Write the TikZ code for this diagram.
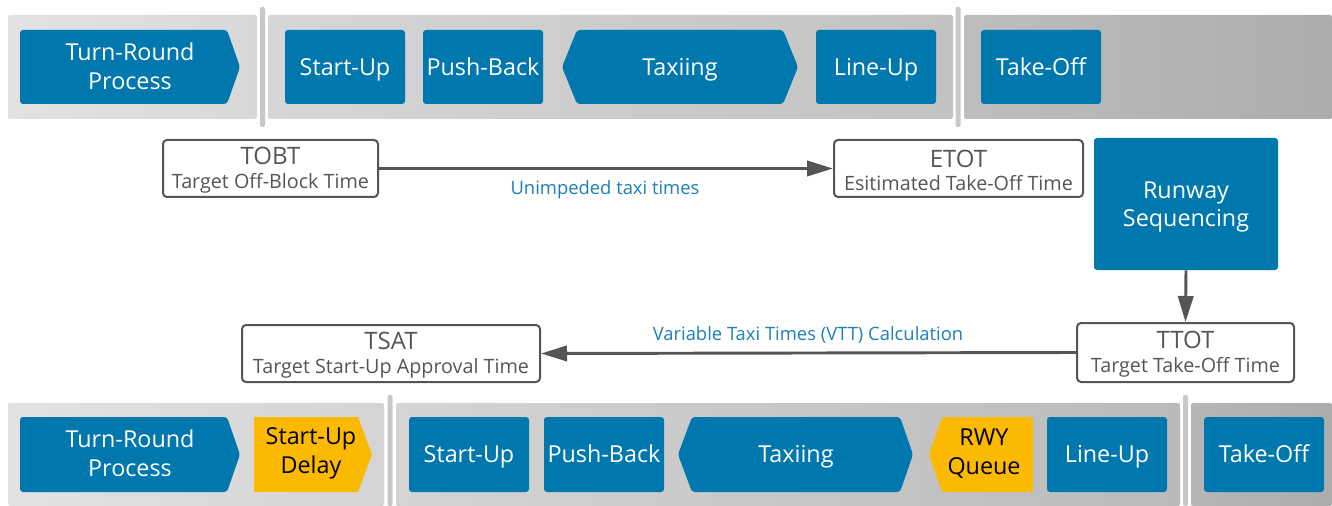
\documentclass[tikz,border=0pt]{standalone}
\usepackage{fontspec}
\setmainfont{Open Sans}
\usetikzlibrary{arrows.meta}
\definecolor{fblue}{HTML}{0077AD}
\definecolor{fyel}{HTML}{FBBA00}
\definecolor{dgray}{HTML}{555555}
\definecolor{lblue}{HTML}{1A80B6}
\definecolor{divc}{RGB}{200,200,200}
\begin{document}
\begin{tikzpicture}[x=0.75pt,y=-0.75pt,
  bigtxt/.style={font=\fontsize{17.5}{21.5}\selectfont, align=center},
  btxt/.style={bigtxt, text=white},
  ytxt/.style={bigtxt, text=black},
  onel/.style={text height=12.5pt, text depth=0pt, inner sep=0pt},
  bbox/.style={btxt, onel, fill=fblue, rounded corners=2.25pt},
  tbox/.style={draw=dgray, line width=1.5pt, rounded corners=3pt, fill=white,
    align=center, text=dgray, inner sep=0pt, font=\fontsize{14.8}{17.5}\selectfont},
  conn/.style={draw=dgray, line width=2.2pt, -{Triangle[length=19.5pt,width=11.5pt]}},
  clabel/.style={text=lblue, font=\fontsize{13.8}{16}\selectfont},
  divbar/.style={fill=divc, rounded corners=1.5pt}
]
\useasboundingbox (0,0) rectangle (1332,506);

% ---------- top band ----------
\shade[left color={rgb,255:red,226;green,226;blue,226}, right color={rgb,255:red,216;green,216;blue,216}, rounded corners=1.5pt] (8,15) rectangle (257,119);
\shade[left color={rgb,255:red,214;green,214;blue,214}, right color={rgb,255:red,194;green,194;blue,194}, rounded corners=1.5pt] (268,15) rectangle (953,119);
\shade[left color={rgb,255:red,190;green,190;blue,190}, right color={rgb,255:red,172;green,172;blue,172}, rounded corners=1.5pt] (964,15) rectangle (1332,119);
\fill[divbar] (260,7) rectangle (265,127);
\fill[divbar] (955.5,7) rectangle (960.5,127);

\fill[fblue, rounded corners=2.25pt] (100,30) -- (227,30) -- (240,67) -- (227,104) -- (20,104) -- (20,30) -- cycle;
\node[btxt] (tr1) at (130,66) {Turn-Round\\Process};
\node[bbox, minimum width=90pt, minimum height=55.5pt] (su1) at (345,67) {Start-Up};
\node[bbox, minimum width=90pt, minimum height=55.5pt] (pb1) at (483,67) {Push-Back};
\fill[fblue, rounded corners=2.25pt] (680,30) -- (783,30) -- (798,67) -- (783,104) -- (577,104) -- (562,67) -- (577,30) -- cycle;
\node[btxt, onel] (tx1) at (680,67) {Taxiing};
\node[bbox, minimum width=90pt, minimum height=55.5pt] (lu1) at (876,67) {Line-Up};
\node[bbox, minimum width=90pt, minimum height=55.5pt] (to1) at (1041,67) {Take-Off};

% ---------- middle ----------
\node[tbox, minimum width=161.25pt, minimum height=42.75pt] (tobt) at (270.5,168.5)
  {\rule{0pt}{15.5pt}{\fontsize{18}{17.5}\selectfont TOBT}\\Target Off-Block Time};
\node[tbox, minimum width=186.75pt, minimum height=42.75pt] (etot) at (958.5,168.5)
  {\rule{0pt}{15.5pt}{\fontsize{18}{17.5}\selectfont ETOT}\\Esitimated Take-Off Time};
\node[btxt, fill=fblue, rounded corners=2.25pt, inner sep=0pt, minimum width=138pt, minimum height=99pt] (rs) at (1186,204)
  {\rule{0pt}{17pt}Runway\\Sequencing};
\node[tbox, minimum width=162.75pt, minimum height=44.25pt] (ttot) at (1185.5,352.5)
  {\rule{0pt}{15.5pt}{\fontsize{18}{17.5}\selectfont TTOT}\\Target Take-Off Time};
\node[tbox, minimum width=223.5pt, minimum height=42.75pt] (tsat) at (391,353.5)
  {\rule{0pt}{15.5pt}{\fontsize{18}{17.5}\selectfont TSAT}\\Target Start-Up Approval Time};

\draw[conn] (tobt.east) -- (etot.west);
\draw[conn] (rs.south) -- (ttot.north);
\draw[conn] (ttot.west) -- (tsat.east);
\node[clabel] (l1) at (605,190) {Unimpeded taxi times};
\node[clabel] (l2) at (808,335) {Variable Taxi Times (VTT) Calculation};

% ---------- bottom band ----------
\shade[left color={rgb,255:red,226;green,226;blue,226}, right color={rgb,255:red,212;green,212;blue,212}, rounded corners=1.5pt] (8,403) rectangle (384,506);
\shade[left color={rgb,255:red,212;green,212;blue,212}, right color={rgb,255:red,186;green,186;blue,186}, rounded corners=1.5pt] (396,403) rectangle (1180,506);
\shade[left color={rgb,255:red,182;green,182;blue,182}, right color={rgb,255:red,172;green,172;blue,172}, rounded corners=1.5pt] (1191,403) rectangle (1332,506);
\fill[divbar] (387.5,395) rectangle (392.5,506);
\fill[divbar] (1183,395) rectangle (1188,506);

\fill[fblue, rounded corners=2.25pt] (100,417) -- (227,417) -- (240,454.5) -- (227,492) -- (20,492) -- (20,417) -- cycle;
\node[btxt] (tr2) at (130,453.5) {Turn-Round\\Process};
\fill[fyel] (254,417) -- (358,417) -- (372,454.5) -- (358,492) -- (254,492) -- cycle;
\node[ytxt] (sd) at (311,453.5) {Start-Up\\Delay};
\node[bbox, minimum width=90pt, minimum height=56.25pt] (su2) at (469,454.5) {Start-Up};
\node[bbox, minimum width=90pt, minimum height=56.25pt] (pb2) at (604,454.5) {Push-Back};
\fill[fblue, rounded corners=2.25pt] (796,417) -- (900,417) -- (913,454.5) -- (900,492) -- (692,492) -- (678,454.5) -- (692,417) -- cycle;
\node[btxt, onel] (tx2) at (796,454.5) {Taxiing};
\fill[fyel, rounded corners=2.25pt] (990,417) -- (1033,417) -- (1033,492) -- (942,492) -- (929,454.5) -- (942,417) -- cycle;
\node[ytxt] (rq) at (984,453.5) {RWY\\Queue};
\node[bbox, minimum width=90pt, minimum height=56.25pt] (lu2) at (1107,454.5) {Line-Up};
\node[bbox, minimum width=90pt, minimum height=56.25pt] (to2) at (1264,454.5) {Take-Off};
\end{tikzpicture}
\end{document}
